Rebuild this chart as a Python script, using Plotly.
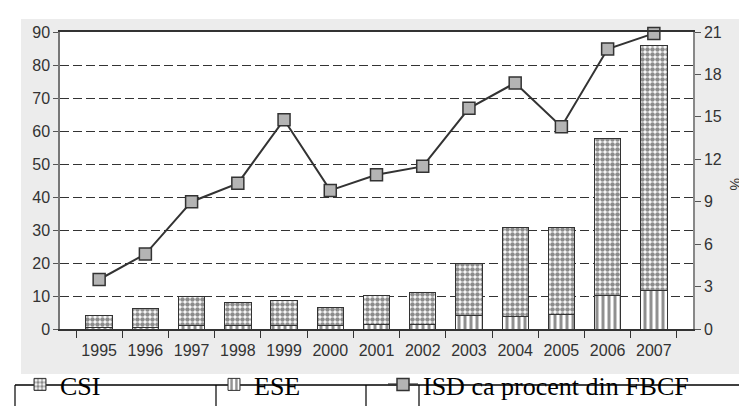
import plotly.graph_objects as go

years = ["1995", "1996", "1997", "1998", "1999", "2000", "2001",
         "2002", "2003", "2004", "2005", "2006", "2007"]
ese = [0.5, 0.5, 1.2, 1.0, 1.2, 1.2, 1.3, 1.4, 4.2, 3.8, 4.5, 10.3, 11.8]
csi = [3.6, 5.6, 8.8, 7.0, 7.3, 5.4, 8.8, 9.6, 15.5, 26.9, 26.2, 47.3, 74.2]
isd_pct = [3.5, 5.3, 9.0, 10.3, 14.8, 9.8, 10.9, 11.5, 15.6, 17.4, 14.3, 19.8, 20.9]
left_ticks = [0, 10, 20, 30, 40, 50, 60, 70, 80, 90]
right_ticks = [0, 3, 6, 9, 12, 15, 18, 21]

WIDTH, HEIGHT = 747, 406
L, R, T, B = 52, 685, 24, 321
PW, PH = R - L, B - T


def px(X):
    return (X - L) / PW


def py(Y):
    return (B - Y) / PH


TICKFONT = dict(family="Liberation Sans, Arial", size=16, color="#333333")
LEGFONT = dict(family="Liberation Serif, Times New Roman", size=26, color="black")

fig = go.Figure()

fig.add_trace(go.Bar(
    x=years, y=ese, name="ESE", legend="legend2", showlegend=True,
    marker=dict(color="white", line=dict(color="#333333", width=1),
                pattern=dict(shape="|", fgcolor="#222222", bgcolor="white",
                             size=6, solidity=0.5)),
))
fig.add_trace(go.Bar(
    x=years, y=csi, name="CSI", legend="legend", showlegend=True,
    marker=dict(color="white", line=dict(color="#333333", width=1),
                pattern=dict(shape=".", fgcolor="#1a1a1a", bgcolor="white",
                             size=5, solidity=0.65)),
))
fig.add_trace(go.Scatter(
    x=years, y=isd_pct, name="ISD ca procent din FBCF", yaxis="y2",
    legend="legend3", showlegend=True, mode="lines+markers", cliponaxis=False,
    line=dict(color="#333333", width=2),
    marker=dict(symbol="square", size=12, color="#b4b4b4",
                line=dict(color="#333333", width=1.5)),
))

shapes = [
    dict(type="rect", xref="paper", yref="paper", layer="below",
         x0=px(13), x1=px(747), y0=py(366), y1=py(11),
         fillcolor="#ececec", line=dict(width=0)),
    dict(type="rect", xref="paper", yref="paper", layer="below",
         x0=0, x1=1, y0=0, y1=1, fillcolor="white", line=dict(width=0)),
    dict(type="line", xref="paper", yref="paper",
         x0=px(7), x1=px(747), y0=py(377), y1=py(377),
         line=dict(color="black", width=1.5)),
]
for xv in [7, 208, 358, 411]:
    shapes.append(dict(type="line", xref="paper", yref="paper",
                       x0=px(xv), x1=px(xv), y0=py(377), y1=py(410),
                       line=dict(color="black", width=1.2)))

legbase = dict(yanchor="top", xanchor="left", orientation="h", font=LEGFONT,
               bgcolor="rgba(0,0,0,0)", borderwidth=0)

fig.update_layout(
    width=WIDTH, height=HEIGHT, autosize=False, showlegend=True,
    margin=dict(l=L, r=WIDTH - R, t=T, b=HEIGHT - B, pad=0, autoexpand=False),
    paper_bgcolor="white", plot_bgcolor="white",
    barmode="stack", bargap=0.43,
    shapes=shapes,
    xaxis=dict(type="category", showline=True, linecolor="#333333",
               linewidth=1.5, mirror=True, ticks="outside", tickson="boundaries",
               ticklen=7, tickcolor="#333333", tickfont=TICKFONT,
               showgrid=False, ticklabelstandoff=6),
    yaxis=dict(range=[0, 90], tickvals=left_ticks, showline=True,
               linecolor="#777777", linewidth=1.5, ticks="outside", ticklen=5,
               tickcolor="#555555", tickfont=TICKFONT, showgrid=True,
               gridcolor="#333333", gridwidth=1.3, griddash="9px,4px",
               zeroline=False),
    yaxis2=dict(range=[0, 21], tickvals=right_ticks, overlaying="y",
                side="right", anchor="x", showline=True, linecolor="#888888",
                linewidth=1.5, ticks="outside", ticklen=6, tickcolor="#555555",
                tickfont=TICKFONT, showgrid=False, zeroline=False),
    yaxis3=dict(range=[0, 21], tickvals=right_ticks, overlaying="y",
                side="right", anchor="x", showline=False, ticks="inside",
                ticklen=6, tickcolor="#555555", showticklabels=False,
                showgrid=False, zeroline=False),
    legend=dict(x=px(12), y=py(353), **legbase),
    legend2=dict(x=px(206), y=py(353), **legbase),
    legend3=dict(x=px(375), y=py(353), **legbase),
    annotations=[dict(text="%", xref="paper", yref="paper", x=px(737),
                      y=py(176), showarrow=False, textangle=90,
                      font=dict(family="Liberation Sans, Arial", size=14,
                                color="#333333"))],
)

fig.write_html("out.html")
